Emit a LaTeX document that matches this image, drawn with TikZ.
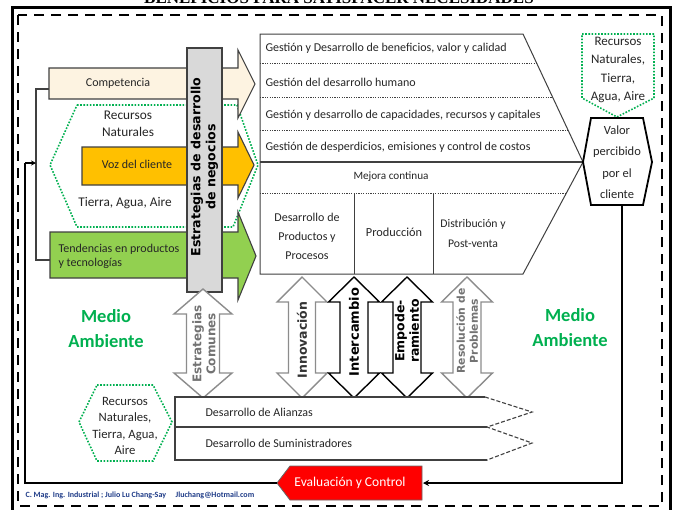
\documentclass[tikz,border=0pt]{standalone}
\usepackage{fontspec}
\usetikzlibrary{arrows.meta}
\setmainfont{Carlito}
\newfontfamily\vfont{DejaVu Sans}
\newfontfamily\tfont{Liberation Serif}
\definecolor{cream}{HTML}{FDF3E1}
\definecolor{gold}{HTML}{FFC000}
\definecolor{lgreen}{HTML}{92D050}
\definecolor{mgreen}{HTML}{00B050}
\definecolor{boxgray}{HTML}{D9D9D9}
\definecolor{evalred}{HTML}{FF0000}
\definecolor{footblue}{HTML}{1F3C88}
\definecolor{edge}{HTML}{404040}
\newcommand{\dblvarrow}[6]{%
 \draw[#1] (#2,#3) -- ({#2+#5},{#3+25}) -- ({#2+#6},{#3+25}) -- ({#2+#6},{#4-25}) -- ({#2+#5},{#4-25}) -- (#2,#4) -- ({#2-#5},{#4-25}) -- ({#2-#6},{#4-25}) -- ({#2-#6},{#3+25}) -- ({#2-#5},{#3+25}) -- cycle;}
\tikzset{
 bigarrow/.style={draw=edge, line width=1.1pt},
 greendots/.style={draw=mgreen, line width=1.6pt, dash pattern=on 1.6pt off 1.6pt},
 rowsep/.style={draw=edge, line width=0.9pt, dash pattern=on 1.2pt off 1.2pt},
 gtxt/.style={font=\fontsize{12}{14}\selectfont, anchor=west, text=black!85},
 ltxt/.style={font=\fontsize{12}{19}\selectfont, align=center, text=black!85},
 rtxt/.style={font=\fontsize{13.3}{17}\selectfont, align=center, text=black!85},
 atxt/.style={font=\fontsize{12}{14}\selectfont, text=black!85},
 vtxt/.style={font=\vfont\bfseries\fontsize{12.5}{14.5}\selectfont, rotate=90, align=center},
 medio/.style={font=\bfseries\fontsize{18.5}{25}\selectfont, text=mgreen, align=center},
 grayarrow/.style={draw=black!45, line width=1.4pt, fill=white},
 blackarrow/.style={draw=black, line width=1.4pt, fill=white},
 loopline/.style={draw=black, line width=1.3pt},
}
\begin{document}
\begin{tikzpicture}[x=1pt,y=-1pt]
\useasboundingbox (0,0) rectangle (676,509);
\clip (0,0) rectangle (676,509);
\fill[white] (0,0) rectangle (676,509);
% title (cut off)
\node[font=\tfont\bfseries\fontsize{17}{17}\selectfont, anchor=base] (title) at (339,3.5) {BENEFICIOS PARA SATISFACER NECESIDADES};
% borders
\draw[line width=3pt] (12,7) rectangle (670,512);
\draw[line width=1.5pt, dash pattern=on 10pt off 7pt] (18,15) rectangle (662,506);

% left green hexagon
\draw[greendots] (77,105) -- (237,105) -- (258,165) -- (233,227) -- (77,227) -- (50,165) -- cycle;
\node[rtxt] (rn1) at (128,124) {Recursos\\Naturales};
\node[rtxt] (tia1) at (125,203) {Tierra, Agua, Aire};

% left arrows
\draw[bigarrow, fill=cream] (49,68) -- (238,68) -- (238,50) -- (255,84) -- (238,118) -- (238,99) -- (49,99) -- cycle;
\node[atxt] (comp) at (118,83) {Competencia};
\draw[bigarrow, fill=gold] (82,147) -- (238,147) -- (238,132) -- (254,165) -- (238,198) -- (238,185) -- (82,185) -- cycle;
\node[atxt] (voz) at (137,164) {Voz del cliente};
\draw[bigarrow, fill=lgreen] (50,232) -- (238,232) -- (238,212) -- (256,256) -- (238,300) -- (238,278) -- (50,278) -- cycle;
\node[atxt, align=left, anchor=west] (tend) at (55,256) {Tendencias en productos\\y tecnologías};

% strategies gray box
\draw[draw=edge, line width=1.1pt, fill=boxgray] (187,48) rectangle (222,292);
\node[vtxt, font=\vfont\bfseries\fontsize{12.6}{15}\selectfont] (estr) at (204.5,167) {Estrategias de desarrollo\\de negocios};

% bracket and loop on the left
\coordinate (bt) at (36,89);
\coordinate (bb) at (36,260);
\draw[line width=1.1pt, draw=edge] (49,89) -- (bt) -- (bb) -- (50,260);
\coordinate (lc) at (25,163);
\coordinate (lm) at (36,163);
\draw[loopline, -{Stealth[length=5pt,width=5pt]}] (lc) -- (lm);

% top block
\draw[draw=edge, line width=1pt, fill=white] (260,34) -- (523,34) -- (583,162) -- (523,274) -- (260,274) -- cycle;
\draw[draw=edge, line width=1.8pt] (260,162) -- (582,162);
\draw[rowsep] (260,63) -- (536.5,63);
\draw[rowsep] (260,97) -- (552,97);
\draw[rowsep] (260,130) -- (567.5,130);
\draw[rowsep] (260,193) -- (566,193);
\draw[draw=edge, line width=1pt] (354,193) -- (354,274);
\draw[draw=edge, line width=1pt] (433,193) -- (433,274);
\node[gtxt] (g1) at (262,48) {Gestión y Desarrollo de beneficios, valor y calidad};
\node[gtxt] (g2) at (262,82) {Gestión del desarrollo humano};
\node[gtxt] (g3) at (262,115) {Gestión y desarrollo de capacidades, recursos y capitales};
\node[gtxt] (g4) at (262,147) {Gestión de desperdicios, emisiones y control de costos};
\node[font=\fontsize{11.2}{13}\selectfont, text=black!85] (mc) at (391,177) {Mejora continua};
\node[ltxt] (dpp) at (307,236) {Desarrollo de\\Productos y\\Procesos};
\node[ltxt, font=\fontsize{12.3}{19}\selectfont] (prod) at (394,232) {Producción};
\node[ltxt, font=\fontsize{11.7}{20}\selectfont] (dist) at (473,233) {Distribución y\\Post-venta};

% top right green pentagon
\draw[greendots] (582,34) -- (654,34) -- (654,98) -- (617,117) -- (582,98) -- cycle;
\node[font=\fontsize{13}{18.2}\selectfont, align=center, text=black!85] (rn2) at (618,70) {Recursos\\Naturales,\\Tierra,\\Agua, Aire};

% Valor percibido hexagon
\draw[draw=black, line width=1.8pt, fill=white] (591,118) -- (643,118) -- (652,162) -- (643,205) -- (591,205) -- (583,162) -- cycle;
\node[font=\fontsize{12.5}{21.5}\selectfont, align=center, text=black!85] (valor) at (617,162) {Valor\\percibido\\por el\\cliente};

% Medio Ambiente
\node[medio] (ma1) at (106,329) {Medio\\Ambiente};
\node[medio] (ma2) at (570,328) {Medio\\Ambiente};

% vertical double arrows
\dblvarrow{grayarrow}{203}{289}{398}{29}{16.5}
\node[vtxt, text=black!55, font=\vfont\bfseries\fontsize{12}{14}\selectfont] (ec) at (204,344) {Estrategias\\Comunes};
\dblvarrow{grayarrow}{302}{277}{398}{25}{13.5}
\node[vtxt, text=black!80] (inn) at (302,340) {Innovación};
\dblvarrow{blackarrow}{354}{277}{398}{25.5}{14}
\node[vtxt, font=\vfont\bfseries\fontsize{13}{15}\selectfont] (int) at (354,332) {Intercambio};
\dblvarrow{blackarrow}{407}{277}{398}{25.5}{14}
\node[vtxt, font=\vfont\bfseries\fontsize{12.5}{14.5}\selectfont] (emp) at (407,331) {Empode-\\ramiento};
\dblvarrow{grayarrow}{467}{277}{398}{25.5}{14}
\node[vtxt, text=black!55, font=\vfont\bfseries\fontsize{10.8}{13}\selectfont] (res) at (467,331) {Resolución de\\Problemas};

% bottom rows
\draw[draw=edge, line width=1.1pt, fill=white] (487,460) -- (175,460) -- (175,397) -- (485,397);
\draw[draw=edge, line width=1.1pt] (175,427) -- (487,427);
\draw[draw=edge, line width=1.1pt, dash pattern=on 4pt off 2pt] (485,397) -- (532,412) -- (487,427) -- (532,443) -- (487,460);
\node[atxt, anchor=west] (ali) at (202,412) {Desarrollo de Alianzas};
\node[atxt, anchor=west] (sum) at (202,443) {Desarrollo de Suministradores};

% bottom-left green hexagon
\draw[greendots] (97,385) -- (153,385) -- (172,422) -- (153,461) -- (97,461) -- (79,422) -- cycle;
\node[font=\fontsize{12.7}{16.5}\selectfont, align=center, text=black!85] (rn3) at (125,426) {Recursos\\Naturales,\\Tierra, Agua,\\Aire};

% Evaluacion y Control
\draw[draw=black!60, line width=0.8pt, fill=evalred] (277,483) -- (290,466) -- (422,466) -- (422,500) -- (290,500) -- cycle;
\node[font=\fontsize{13.5}{15}\selectfont, text=white] (eval) at (350,483) {Evaluación y Control};

% feedback loop
\coordinate (vb) at (622,205);
\coordinate (vc) at (622,483);
\coordinate (ev) at (423,483);
\coordinate (et) at (277,483);
\coordinate (lb) at (25,483);
\draw[loopline, -{Stealth[length=6pt,width=6pt]}] (vb) -- (vc) -- (ev);
\draw[loopline] (et) -- (lb) -- (lc);

% footer
\node[font=\bfseries\fontsize{8}{9}\selectfont, text=footblue, anchor=west] (foot) at (22,495) {C. Mag. Ing. Industrial ; Julio Lu Chang-Say\hspace{1.2em}Jluchang@Hotmail.com};
\end{tikzpicture}
\end{document}
